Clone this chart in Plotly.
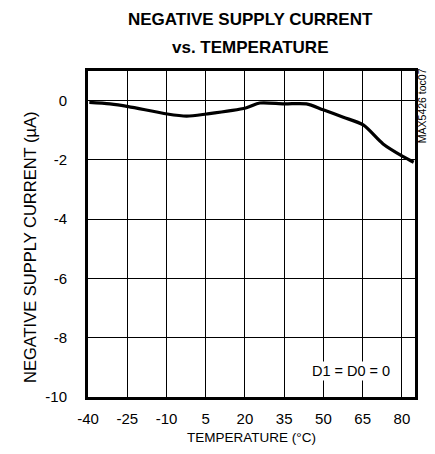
import plotly.graph_objects as go

temp_c = [-39.5, -31.6, -24.6, -9.7, -2.3, 5.3, 20.3, 25.7, 35, 43.5, 49.9, 57.6, 65.2, 72.8, 80.5, 84.5]
current_ua = [-0.06, -0.11, -0.2, -0.45, -0.52, -0.45, -0.25, -0.08, -0.11, -0.11, -0.31, -0.56, -0.82, -1.46, -1.89, -2.08]
x_ticks = [-40, -25, -10, 5, 20, 35, 50, 65, 80]
y_ticks = [0, -2, -4, -6, -8, -10]

FONT = "Liberation Sans, Arial, sans-serif"
W, H = 435, 454
L, R, T, B = 88, 20, 71, 57
PW = W - L - R
PH = H - T - B


def px(xpix):
    return (xpix - L) / PW


def py(ypix):
    return (H - B - ypix) / PH


fig = go.Figure()
fig.add_trace(go.Scatter(x=temp_c, y=current_ua, mode="lines",
                         line=dict(color="black", width=3.2, shape="spline", smoothing=0.8),
                         showlegend=False, hoverinfo="skip"))

fig.update_layout(
    width=W, height=H,
    margin=dict(l=L, r=R, t=T, b=B),
    paper_bgcolor="white", plot_bgcolor="white",
    font=dict(family=FONT, color="black", size=15),
    xaxis=dict(range=[-40, 85], tickvals=x_ticks, ticktext=[str(v) for v in x_ticks],
               showgrid=True, gridcolor="black", gridwidth=1, zeroline=False,
               showline=True, linecolor="black", linewidth=3, mirror=True,
               ticks="", ticklabelstandoff=6,
               tickfont=dict(size=15)),
    yaxis=dict(range=[-10, 1], tickvals=y_ticks, ticktext=[str(v) for v in y_ticks],
               showgrid=True, gridcolor="black", gridwidth=1, zeroline=False,
               showline=True, linecolor="black", linewidth=3, mirror=True,
               ticks="", ticklabelstandoff=15,
               tickfont=dict(size=15)),
)

# title lines
fig.add_annotation(x=px(250), y=py(19.5), xref="paper", yref="paper", xanchor="center", yanchor="middle",
                   text="<b>NEGATIVE SUPPLY CURRENT</b>", showarrow=False, font=dict(size=17, family=FONT))
fig.add_annotation(x=px(250), y=py(47.5), xref="paper", yref="paper", xanchor="center", yanchor="middle",
                   text="<b>vs. TEMPERATURE</b>", showarrow=False, font=dict(size=17, family=FONT))
# axis titles
fig.add_annotation(x=px(251.5), y=py(437), xref="paper", yref="paper", xanchor="center", yanchor="middle",
                   text="TEMPERATURE (°C)", showarrow=False, font=dict(size=13.5, family=FONT))
fig.add_annotation(x=px(30), y=py(248), xref="paper", yref="paper", xanchor="center",
                   yanchor="middle", text="NEGATIVE SUPPLY CURRENT (µA)", textangle=-90, showarrow=False,
                   font=dict(size=16.5, family=FONT))

fig.add_annotation(x=60.5, y=-9.12, xref="x", yref="y", text="D1 = D0 = 0",
                   showarrow=False, bgcolor="white", font=dict(size=14.5, family=FONT),
                   borderpad=1)
fig.add_annotation(x=px(421.7), y=py(66), xref="paper", yref="paper", xanchor="center",
                   yanchor="top", text="MAX5426 toc07", textangle=-90, showarrow=False,
                   font=dict(size=10.5, family=FONT))

fig.write_html("out.html", config={"displayModeBar": False},
               post_script="document.body.style.margin='0';document.body.style.overflow='hidden';")
